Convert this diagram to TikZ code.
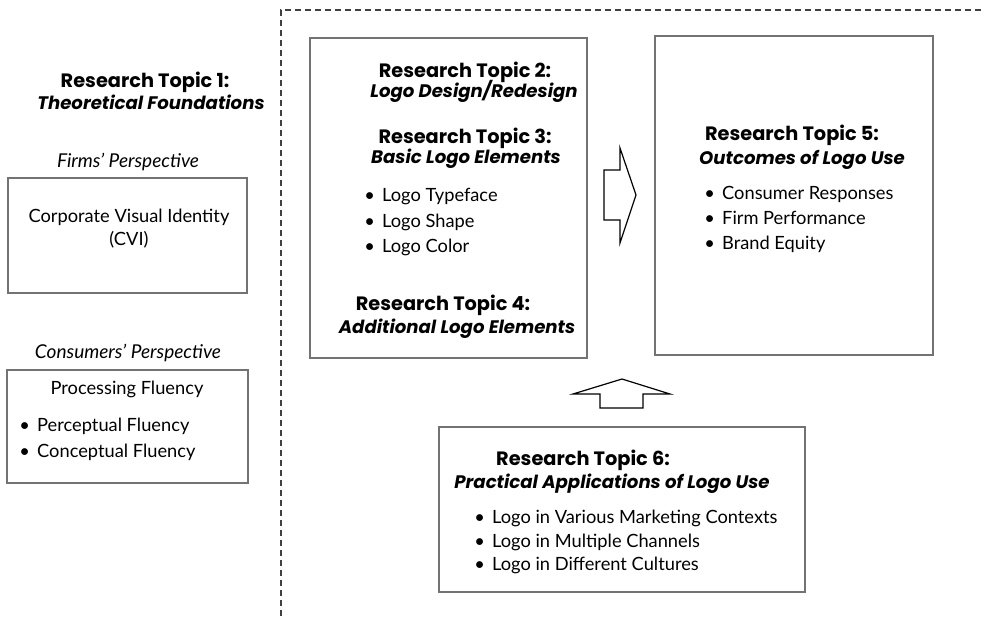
\documentclass[tikz,border=0pt]{standalone}
\usepackage{fontspec}
\setmainfont{Lato}
\newfontfamily\headfont{Poppins}
\usetikzlibrary{fit}
\definecolor{boxgray}{gray}{0.45}
\definecolor{dashgray}{gray}{0.25}
\newcommand\bodyf{\fontsize{13.7}{16}\selectfont}
\newcommand\headf{\headfont\fontsize{14.5}{16}\selectfont\bfseries}
\newcommand\headif{\headfont\fontsize{13.6}{16}\selectfont\bfseries\itshape}
\newcommand\persf{\fontsize{14.3}{16}\selectfont\itshape}
\newcommand\bul{\textbullet\hspace{5.5pt}}
\begin{document}
\begin{tikzpicture}[x=0.75pt,y=-0.75pt,
  box/.style={draw=boxgray, line width=1pt, inner sep=0pt},
  txt/.style={inner sep=0pt, anchor=base, font=\bodyf},
  hd/.style={inner sep=0pt, anchor=base, font=\headf},
  hdi/.style={inner sep=0pt, anchor=base, font=\headif},
  pers/.style={inner sep=0pt, anchor=base, font=\persf},
  li/.style={inner sep=0pt, anchor=base west, font=\bodyf},
  blockarrow/.style={draw=black, line width=0.9pt, fill=white, line join=miter},
  frame/.style={draw=dashgray, line width=1.1pt, dash pattern=on 4.5pt off 3pt}]
\useasboundingbox (0,0) rectangle (985,618);

% dashed separator between theory and logo research topics
\coordinate (fbot) at (281,616);
\coordinate (fcorner) at (281,10);
\coordinate (fright) at (985,10);
\draw[frame] (fbot) -- (fcorner) -- (fright);

% ---- research topic 1 ----
\node[hd]  (rt1)  at (145,87)  {Research Topic 1:};
\node[hdi] (rt1s) at (151,109) {Theoretical Foundations};

\node[pers] (firms) at (128,167) {Firms’ Perspective};
\node[box, fit={(8,178)(247,293)}] (cvibox) {};
\node[txt] (cvi1) at (129,222) {Corporate Visual Identity};
\node[txt] (cvi2) at (129,245) {(CVI)};

\node[pers] (cons) at (128,358) {Consumers’ Perspective};
\node[box, fit={(7,370)(248,483)}] (pfbox) {};
\node[txt] (pf) at (127,394) {Processing Fluency};
\node[li] (pf1) at (19,431) {\bul Perceptual Fluency};
\node[li] (pf2) at (19,457) {\bul Conceptual Fluency};

% ---- research topics 2-4 ----
\node[box, fit={(310,38)(587,358)}] (design) {};
\node[hd]  (rt2)  at (465,77)  {Research Topic 2:};
\node[hdi] (rt2s) at (474,97)  {Logo Design/Redesign};
\node[hd]  (rt3)  at (465,143) {Research Topic 3:};
\node[hdi] (rt3s) at (466,163) {Basic Logo Elements};
\node[li] (e1) at (364,201) {\bul Logo Typeface};
\node[li] (e2) at (364,227) {\bul Logo Shape};
\node[li] (e3) at (364,252) {\bul Logo Color};
\node[hd]  (rt4)  at (443,310) {Research Topic 4:};
\node[hdi] (rt4s) at (457,333) {Additional Logo Elements};

% ---- research topic 5 ----
\node[box, fit={(655,36)(933,355)}] (outcome) {};
\node[hd]  (rt5)  at (792,140) {Research Topic 5:};
\node[hdi] (rt5s) at (802,164) {Outcomes of Logo Use};
\node[li] (o1) at (704,199) {\bul Consumer Responses};
\node[li] (o2) at (704,224) {\bul Firm Performance};
\node[li] (o3) at (704,249) {\bul Brand Equity};

% ---- research topic 6 ----
\node[box, fit={(439,427)(805,592)}] (practice) {};
\node[hd]  (rt6)  at (583,465) {Research Topic 6:};
\node[hdi] (rt6s) at (612,488) {Practical Applications of Logo Use};
\node[li] (p1) at (474,523) {\bul Logo in Various Marketing Contexts};
\node[li] (p2) at (474,547) {\bul Logo in Multiple Channels};
\node[li] (p3) at (474,570) {\bul Logo in Different Cultures};

% ---- block arrows ----
\draw[blockarrow] (604,170) -- (620,170) -- (620,148) -- (636,195)
  -- (620,243) -- (620,220) -- (604,220) -- cycle;
\draw[blockarrow] (600,408) -- (600,394) -- (573,394) -- (622,379)
  -- (670,394) -- (643,394) -- (643,408) -- cycle;
\end{tikzpicture}
\end{document}
